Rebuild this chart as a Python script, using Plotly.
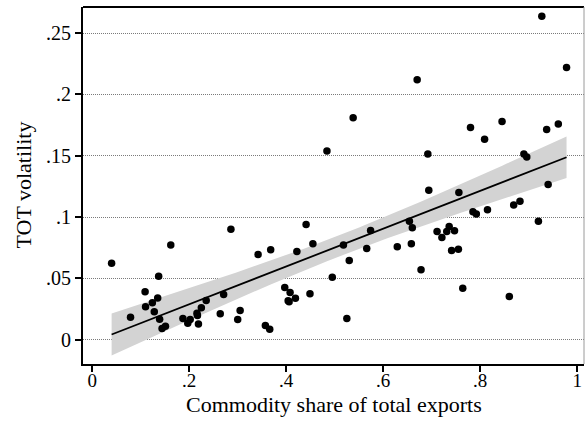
import numpy as np
import plotly.graph_objects as go

# Commodity share of total exports (x) and terms-of-trade volatility (y)
commodity_share = [
    0.040, 0.079, 0.109, 0.110, 0.124, 0.128, 0.135, 0.137, 0.139, 0.144,
    0.151, 0.162, 0.187, 0.197, 0.202, 0.216, 0.217, 0.219, 0.225, 0.235,
    0.264, 0.271, 0.286, 0.300, 0.305, 0.342, 0.357, 0.366, 0.368, 0.397,
    0.404, 0.406, 0.408, 0.419, 0.422, 0.441, 0.449, 0.455, 0.484, 0.495,
    0.518, 0.525, 0.530, 0.538, 0.566, 0.574, 0.629, 0.654, 0.658, 0.660,
    0.670, 0.678, 0.692, 0.694, 0.711, 0.721, 0.731, 0.736, 0.741, 0.747,
    0.755, 0.756, 0.764, 0.780, 0.785, 0.792, 0.809, 0.815, 0.845, 0.860,
    0.869, 0.882, 0.890, 0.896, 0.920, 0.927, 0.937, 0.940, 0.961, 0.978,
]
tot_volatility = [
    0.0625, 0.0184, 0.0391, 0.0269, 0.0302, 0.0228, 0.0342, 0.0519, 0.0168, 0.0092,
    0.0111, 0.0772, 0.0174, 0.0135, 0.0166, 0.0217, 0.0198, 0.0130, 0.0261, 0.0320,
    0.0212, 0.0370, 0.0902, 0.0166, 0.0239, 0.0696, 0.0117, 0.0086, 0.0734, 0.0427,
    0.0318, 0.0310, 0.0386, 0.0339, 0.0720, 0.0940, 0.0375, 0.0783, 0.1540, 0.0511,
    0.0772, 0.0174, 0.0647, 0.1810, 0.0745, 0.0891, 0.0758, 0.0967, 0.0783, 0.0913,
    0.2120, 0.0571, 0.1514, 0.1220, 0.0883, 0.0834, 0.0883, 0.0924, 0.0728, 0.0889,
    0.0739, 0.1200, 0.0421, 0.1730, 0.1044, 0.1025, 0.1636, 0.1060, 0.1780, 0.0353,
    0.1100, 0.1130, 0.1514, 0.1490, 0.0967, 0.2637, 0.1715, 0.1267, 0.1760, 0.2219,
]

x_tick_vals = [0, 0.2, 0.4, 0.6, 0.8, 1]
x_tick_text = ["0", ".2", ".4", ".6", ".8", "1"]
y_tick_vals = [0, 0.05, 0.1, 0.15, 0.2, 0.25]
y_tick_text = ["0", ".05", ".1", ".15", ".2", ".25"]

# Linear fit with 95% confidence interval of the mean prediction
x = np.asarray(commodity_share)
y = np.asarray(tot_volatility)
n = len(x)
slope, intercept = np.polyfit(x, y, 1)
resid = y - (intercept + slope * x)
dof = n - 2
s2 = np.sum(resid ** 2) / dof
sxx = np.sum((x - x.mean()) ** 2)

# Student-t 97.5% quantile via Cornish-Fisher expansion
z = 1.959964
t_crit = (z + (z ** 3 + z) / (4 * dof)
          + (5 * z ** 5 + 16 * z ** 3 + 3 * z) / (96 * dof ** 2))

xg = np.linspace(x.min(), x.max(), 100)
yg = intercept + slope * xg
se = np.sqrt(s2 * (1.0 / n + (xg - x.mean()) ** 2 / sxx))
lo = yg - t_crit * se
hi = yg + t_crit * se

FONT = "Liberation Serif"

fig = go.Figure()
fig.add_trace(go.Scatter(
    x=np.concatenate([xg, xg[::-1]]), y=np.concatenate([hi, lo[::-1]]),
    fill="toself", fillcolor="#d3d3d3", line=dict(width=0),
    mode="lines", hoverinfo="skip", showlegend=False,
))
fig.add_trace(go.Scatter(
    x=commodity_share, y=tot_volatility, mode="markers",
    marker=dict(color="black", size=7.5, line=dict(width=0)),
    showlegend=False,
))
fig.add_trace(go.Scatter(
    x=xg, y=yg, mode="lines", line=dict(color="black", width=1.8),
    showlegend=False,
))

fig.update_layout(
    width=585, height=422,
    margin=dict(l=83, r=1, t=7, b=58),
    paper_bgcolor="white", plot_bgcolor="white",
    font=dict(family=FONT, color="black", size=20),
    xaxis=dict(
        range=[-0.019, 1.014], tickvals=x_tick_vals, ticktext=x_tick_text,
        showgrid=False, zeroline=False,
        showline=True, linecolor="black", linewidth=2,
        ticks="outside", ticklen=6, tickwidth=1.5, tickcolor="black",
        tickfont=dict(size=19), ticklabelstandoff=-8,
    ),
    yaxis=dict(
        range=[-0.0197, 0.2713], tickvals=y_tick_vals, ticktext=y_tick_text,
        showgrid=True, gridcolor="#7a7a7a", gridwidth=1, griddash="1px,1px",
        zeroline=False,
        showline=True, linecolor="black", linewidth=2,
        ticks="outside", ticklen=6, tickwidth=1.5, tickcolor="black",
        tickfont=dict(size=20),
    ),
    annotations=[
        dict(text="Commodity share of total exports", xref="paper", yref="paper",
             x=0.5, y=0, xanchor="center", yanchor="top", yshift=-26,
             showarrow=False, font=dict(size=22)),
        dict(text="TOT volatility", xref="paper", yref="paper",
             x=0, y=0.5, xanchor="center", yanchor="middle", xshift=-60,
             textangle=-90, showarrow=False, font=dict(size=22)),
    ],
    shapes=[
        dict(type="line", xref="paper", yref="paper", x0=0, x1=1, y0=1, y1=1,
             line=dict(color="black", width=2)),
        dict(type="line", xref="paper", yref="paper", x0=1, x1=1, y0=0, y1=1,
             line=dict(color="#9a9a9a", width=1)),
    ],
)

fig.write_html("out.html")
